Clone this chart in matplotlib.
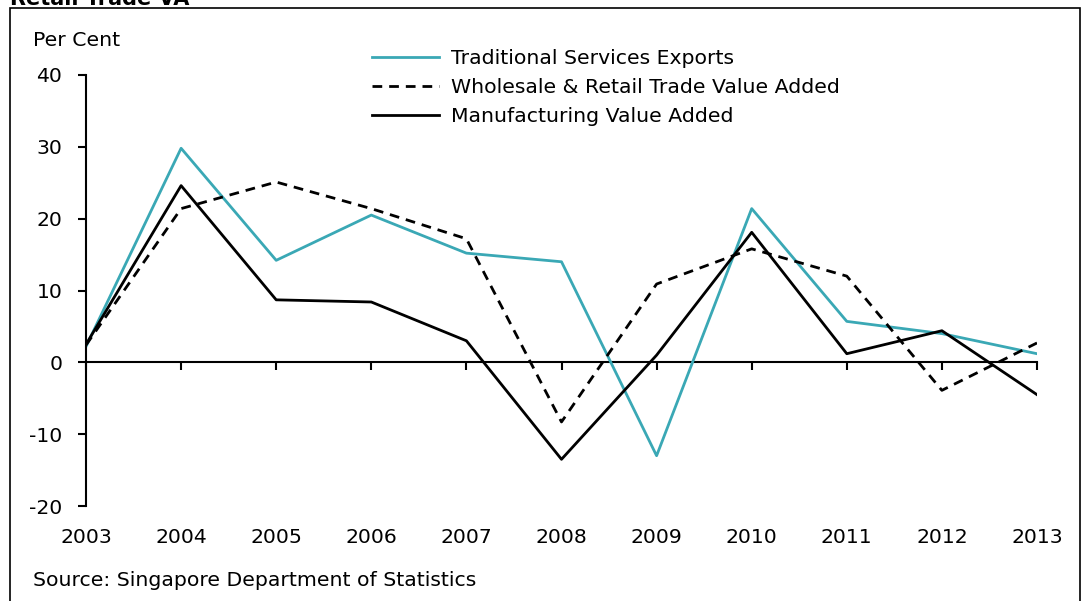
import matplotlib
matplotlib.use('Agg')
import matplotlib.pyplot as plt
from matplotlib.patches import Rectangle

# ---Data (per cent)---
years = [2003, 2004, 2005, 2006, 2007, 2008, 2009, 2010, 2011, 2012, 2013]
trad_services = [2.2, 29.8, 14.2, 20.5, 15.2, 14.0, -13.0, 21.4, 5.7, 4.0, 1.2]
wholesale_retail = [2.4, 21.4, 25.1, 21.4, 17.2, -8.3, 10.9, 15.8, 12.0, -3.9, 2.7]
manufacturing = [2.5, 24.6, 8.7, 8.4, 3.0, -13.5, 1.0, 18.1, 1.2, 4.4, -4.5]

y_ticks = [-20, -10, 0, 10, 20, 30, 40]
teal = '#3AA8B5'

plt.rcParams['font.family'] = ['DejaVu Sans']
plt.rcParams['font.size'] = 14.7
plt.rcParams['axes.unicode_minus'] = False

fig = plt.figure(figsize=(10.83, 6.01), dpi=100)
ax = fig.add_axes([86 / 1083, 1 - 506 / 601, (1037 - 86) / 1083, (506 - 75) / 601])

# ---Outer frame and cut-off title---
fig.patches.append(Rectangle((10 / 1083, -0.1), (1080 - 10) / 1083, 1.1 - 8 / 601,
                             transform=fig.transFigure, fill=False, lw=1.2, ec='black'))
fig.text(10 / 1083, 1 + 1 / 601, 'Retail Trade VA', fontsize=15, fontweight='bold', va='center')

l1, = ax.plot(years, trad_services, color=teal, lw=2.0)
l2, = ax.plot(years, wholesale_retail, color='black', lw=2.0, ls=(0, (3.5, 2.5)))
l3, = ax.plot(years, manufacturing, color='black', lw=2.0)

ax.set_xlim(2003, 2013)
ax.set_ylim(-20, 40)
ax.set_yticks(y_ticks)
ax.set_xticks(years)
ax.set_xticklabels([str(y) for y in years])

for s in ['top', 'right', 'bottom']:
    ax.spines[s].set_visible(False)
ax.spines['left'].set_linewidth(1.5)
ax.tick_params(axis='y', direction='out', length=6, width=1.5, pad=11)
ax.tick_params(axis='x', length=0, pad=16)

# zero line with its own tick marks
zero_ax = ax.secondary_xaxis(1 / 3)
zero_ax.set_xticks(years)
zero_ax.tick_params(direction='out', length=6, width=1.5, labelbottom=False)
zero_ax.spines['bottom'].set_linewidth(1.5)

fig.text(33 / 1083, 1 - 40 / 601, 'Per Cent', va='center', ha='left')
fig.text(33 / 1083, 1 - 580 / 601, 'Source: Singapore Department of Statistics', va='center', ha='left')

fig.legend([l1, l2, l3],
           ['Traditional Services Exports', 'Wholesale & Retail Trade Value Added', 'Manufacturing Value Added'],
           loc='upper left', bbox_to_anchor=(372 / 1083, 1 - 49 / 601), frameon=False,
           handlelength=3.3, handletextpad=0.55, labelspacing=0.5, borderaxespad=0, borderpad=0)

fig.savefig('out.png', dpi=100)
